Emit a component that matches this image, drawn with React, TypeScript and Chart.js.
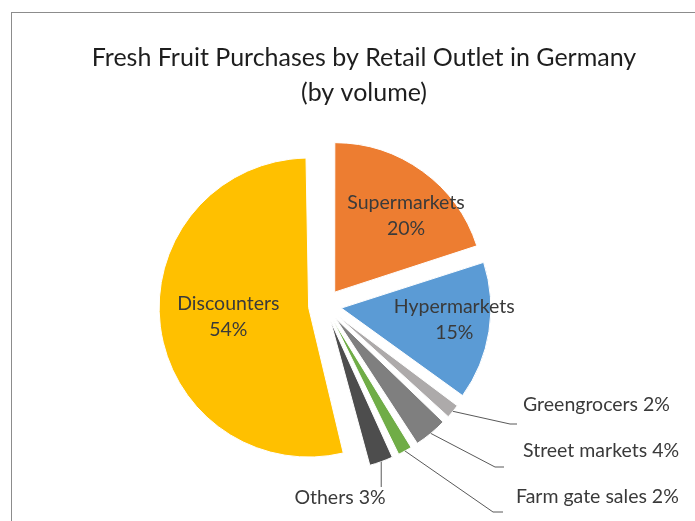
import React, { useEffect, useRef } from "react";
import { Chart, registerables } from "chart.js";

Chart.register(...registerables);

// ---- data ----
const categories = [
  "Supermarkets",
  "Hypermarkets",
  "Greengrocers",
  "Street markets",
  "Farm gate sales",
  "Others",
  "Discounters",
];
const shares = [20, 15, 2, 4, 2, 3, 54];
const sliceColors = ["#ED7D31", "#5B9BD5", "#ADAAAA", "#7F7F7F", "#70AD47", "#4D4D4D", "#FFC000"];
const titleLines = ["Fresh Fruit Purchases by Retail Outlet in Germany", "(by volume)"];

// ---- layout ----
const W = 695;
const H = 521;
const CX = 325;
const CY = 305.5;
const RADIUS = 149.5;
const EXPLODE = 16.5;
const FONT = "Lato, 'Open Sans', sans-serif";
const LABEL_SIZE = 19.5;
const TITLE_SIZE = 25;

// inside labels: radial fraction, angular tweak (deg)
const insideLabels = [
  { index: 0, frac: 0.7, tweak: 7 },
  { index: 1, frac: 0.76, tweak: -3 },
  { index: 6, frac: 0.54, tweak: 1 },
];
// outside labels: text anchor + leader elbow/end
const outsideLabels = [
  { index: 2, tx: 523, ty: 405, align: "left", elbow: [510, 424], end: [517, 424] },
  { index: 3, tx: 523, ty: 451, align: "left", elbow: [495, 467], end: [504, 467] },
  { index: 4, tx: 516, ty: 497, align: "left", elbow: [493, 512], end: [503, 512] },
  { index: 5, tx: 340, ty: 498, align: "center", elbow: null, end: [null, 487] },
];

const radiusFix = {
  id: "radiusFix",
  afterDatasetsUpdate(chart: any) {
    const meta = chart.getDatasetMeta(0);
    meta.data.forEach((arc: any) => {
      const c = arc.circumference;
      const fix = 1 - Math.sin(Math.min(Math.PI, c || 0));
      arc.outerRadius = RADIUS - EXPLODE * fix;
    });
  },
};

const frame = {
  id: "frame",
  beforeDraw(chart: any) {
    const ctx = chart.ctx;
    ctx.save();
    ctx.fillStyle = "#ffffff";
    ctx.fillRect(0, 0, W, H);
    ctx.strokeStyle = "#8C8C8C";
    ctx.lineWidth = 1;
    ctx.strokeRect(11.5, 12.5, W + 20, H + 20);
    ctx.restore();
  },
};

function geom(arc: any) {
  const mid = (arc.startAngle + arc.endAngle) / 2;
  const ax = arc.x + Math.cos(mid) * EXPLODE;
  const ay = arc.y + Math.sin(mid) * EXPLODE;
  return { mid, ax, ay };
}

const labels = {
  id: "sliceLabels",
  afterDatasetsDraw(chart: any) {
    const ctx = chart.ctx;
    const meta = chart.getDatasetMeta(0);
    ctx.save();
    // title
    ctx.fillStyle = "#1E1E1E";
    ctx.textAlign = "center";
    ctx.textBaseline = "alphabetic";
    ctx.font = `${TITLE_SIZE}px ${FONT}`;
    ctx.fillText(titleLines[0], 364, 66);
    ctx.fillText(titleLines[1], 364, 101);

    ctx.font = `${LABEL_SIZE}px ${FONT}`;
    ctx.fillStyle = "#3A3A3A";
    ctx.textBaseline = "middle";
    insideLabels.forEach((l) => {
      const arc = meta.data[l.index];
      const { mid, ax, ay } = geom(arc);
      const a = mid + (l.tweak * Math.PI) / 180;
      const x = ax + Math.cos(a) * RADIUS * l.frac;
      const y = ay + Math.sin(a) * RADIUS * l.frac;
      ctx.textAlign = "center";
      ctx.fillText(categories[l.index], x, y - 13);
      ctx.fillText(`${shares[l.index]}%`, x, y + 13);
    });

    ctx.strokeStyle = "#595959";
    ctx.lineWidth = 1;
    outsideLabels.forEach((l) => {
      const arc = meta.data[l.index];
      const { mid, ax, ay } = geom(arc);
      const sx = ax + Math.cos(mid) * RADIUS;
      const sy = ay + Math.sin(mid) * RADIUS;
      ctx.beginPath();
      ctx.moveTo(sx, sy);
      if (l.elbow) {
        ctx.lineTo(l.elbow[0], l.elbow[1]);
        ctx.lineTo(l.end[0] as number, l.end[1] as number);
      } else {
        ctx.lineTo(sx, l.end[1] as number);
      }
      ctx.stroke();
      ctx.textAlign = l.align as CanvasTextAlign;
      ctx.fillText(`${categories[l.index]} ${shares[l.index]}%`, l.tx, l.ty);
    });
    ctx.restore();
  },
};

export default function App() {
  const ref = useRef<HTMLCanvasElement | null>(null);
  useEffect(() => {
    if (!ref.current) return;
    const chart = new Chart(ref.current, {
      type: "pie",
      data: {
        labels: categories,
        datasets: [
          {
            data: shares,
            backgroundColor: sliceColors,
            borderColor: "#ffffff",
            borderWidth: 1,
            offset: EXPLODE * 4,
            radius: RADIUS,
          } as any,
        ],
      },
      options: {
        responsive: false,
        animation: false,
        events: [],
        layout: { padding: { left: 0, right: W - 2 * CX, top: 2 * CY - H, bottom: 0 } },
        plugins: {
          legend: { display: false },
          title: { display: false },
          tooltip: { enabled: false },
        },
      },
      plugins: [frame, radiusFix, labels],
    });
    return () => chart.destroy();
  }, []);
  return (
    <div style={{ position: "fixed", left: 0, top: 0, width: W, height: H, background: "#fff" }}>
      <canvas ref={ref} width={W} height={H} style={{ display: "block" }} />
    </div>
  );
}
